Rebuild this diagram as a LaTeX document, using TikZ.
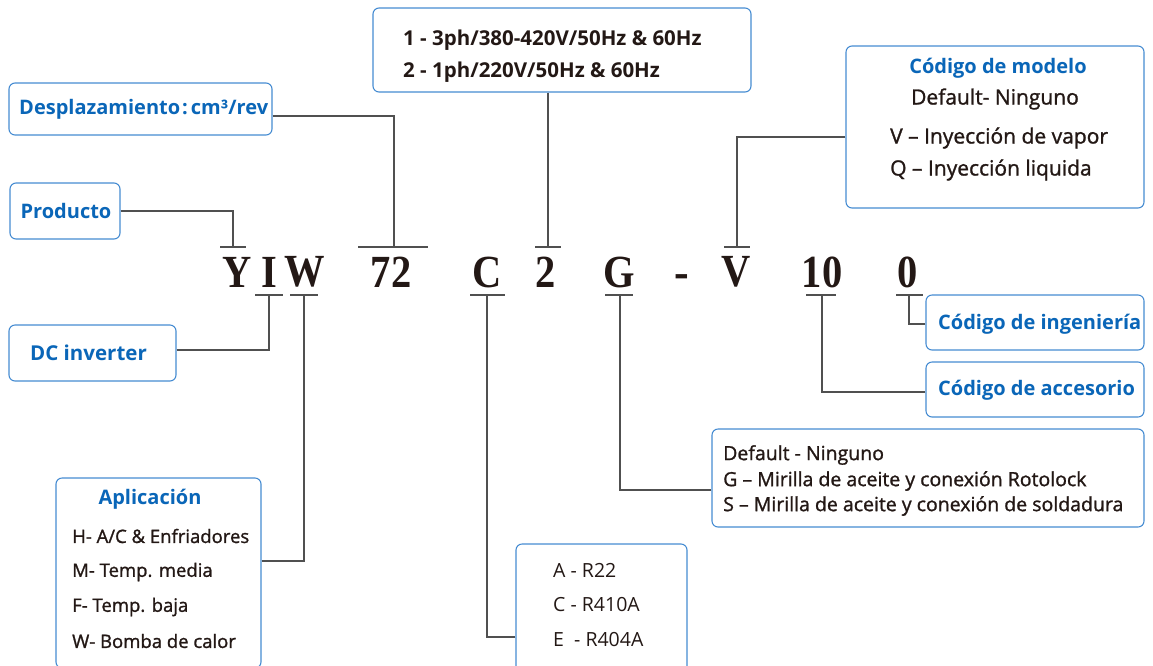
\documentclass[tikz,border=0pt]{standalone}
\usepackage{fontspec}
\setmainfont{Open Sans}
\newfontfamily\osmed[FakeBold=1.2]{Open Sans}
\newfontfamily\codefont[FakeStretch=0.88]{Liberation Serif}
\definecolor{bluetxt}{RGB}{10,102,184}
\definecolor{boxblue}{RGB}{70,140,210}
\definecolor{darktxt}{RGB}{35,24,21}
\definecolor{linegray}{RGB}{80,80,80}
\tikzset{
  box/.style={draw=boxblue, line width=1.1pt, rounded corners=6pt, inner sep=0pt, fill=white},
  btitle/.style={text=bluetxt, font=\bfseries\fontsize{20}{24}\selectfont, inner sep=0pt},
  bline/.style={text=darktxt, font=\osmed\fontsize{#1}{22}\selectfont, inner sep=0pt, anchor=west},
  bline/.default=19,
  bbline/.style={text=darktxt, font=\bfseries\fontsize{20.5}{24}\selectfont, inner sep=0pt, anchor=west},
  rline/.style={text=darktxt, font=\fontsize{19.5}{22}\selectfont, inner sep=0pt, anchor=west},
  code/.style={text=darktxt, font=\codefont\bfseries\fontsize{46}{50}\selectfont, inner sep=0pt},
  conn/.style={draw=linegray, line width=1.2pt},
  tick/.style={draw=linegray, line width=1.5pt},
}
\begin{document}
\begin{tikzpicture}[x=1pt,y=-1pt]
\useasboundingbox (0,0) rectangle (1153,665);

% code letters
\node[code] (cY) at (237,272) {Y};
\node[code] (cI) at (269,272) {I};
\node[code] (cW) at (305,272) {W};
\node[code] (c72) at (391,272) {72};
\node[code] (cC) at (487,272) {C};
\node[code] (c2) at (546,272) {2};
\node[code] (cG) at (619,272) {G};
\node[code, font=\codefont\bfseries\fontsize{50}{50}\selectfont] (cdash) at (682,282) {-};
\node[code] (cV) at (736,272) {V};
\node[code] (c10) at (822,272) {10};
\node[code] (c0) at (908,272) {0};

% tick coordinates
\coordinate (tY) at (233,247);
\coordinate (t72) at (394,247);
\coordinate (t2) at (548,247);
\coordinate (tV) at (737,247);
\coordinate (bI) at (269,295);
\coordinate (bW) at (304,295);
\coordinate (bC) at (487,295);
\coordinate (bG) at (620,295);
\coordinate (b10) at (822,295);
\coordinate (b0) at (909,295);

% boxes
\node[box, minimum width=263pt, minimum height=52pt] (disp) at (140.5,109) {};
\node[box, minimum width=378pt, minimum height=84pt] (top) at (562,50) {};
\node[box, minimum width=298pt, minimum height=162pt] (model) at (995,127) {};
\node[box, minimum width=110pt, minimum height=56pt] (prod) at (65,211) {};
\node[box, minimum width=167pt, minimum height=56pt] (dc) at (92.5,353) {};
\node[box, minimum width=205pt, minimum height=190pt] (apl) at (158.5,573) {};
\node[box, minimum width=171pt, minimum height=132pt] (ref) at (601.5,610) {};
\node[box, minimum width=432pt, minimum height=98pt] (gbox) at (928,478) {};
\node[box, minimum width=218pt, minimum height=55pt] (acc) at (1035,389.5) {};
\node[box, minimum width=218pt, minimum height=55pt] (ing) at (1035,322.5) {};

% box texts
\node[btitle, anchor=west] (tdisp) at (19,109) {Desplazamiento\hspace{2pt}:\hspace{3pt}cm³/rev};
\node[bbline] (top1) at (403,40) {1 - 3ph/380-420V/50Hz \& 60Hz};
\node[bbline] (top2) at (403,72) {2 - 1ph/220V/50Hz \& 60Hz};
\node[btitle] (tmodel) at (998,68) {Código de modelo};
\node[bline=21, anchor=center] (m1) at (995,99) {Default- Ninguno};
\node[bline=21] (m2) at (890,138) {V – Inyección de vapor};
\node[bline=21] (m3) at (890,170) {Q – Inyección liquida};
\node[btitle] (tprod) at (66,211) {Producto};
\node[btitle, anchor=west, font=\bfseries\fontsize{20.5}{24}\selectfont] (tdc) at (30,353) {DC inverter};
\node[btitle] (tapl) at (150,499) {Aplicación};
\node[bline=18.5] (a1) at (72,536) {H- A/C \& Enfriadores};
\node[bline=18.5] (a2) at (72,572) {M- Temp. media};
\node[bline=18.5] (a3) at (72,607) {F- Temp. baja};
\node[bline=18.5] (a4) at (72,641) {W- Bomba de calor};
\node[rline] (r1) at (553,570) {A - R22};
\node[rline] (r2) at (553,605) {C - R410A};
\node[rline] (r3) at (553,640) {E\ \ - R404A};
\node[bline=19.5] (g1) at (723,455) {Default - Ninguno};
\node[bline=19.5] (g2) at (723,481) {G – Mirilla de aceite y conexión Rotolock};
\node[bline=19.5] (g3) at (723,506) {S – Mirilla de aceite y conexión de soldadura};
\node[btitle, anchor=west] (tacc) at (938,390) {Código de accesorio};
\node[btitle, anchor=west] (ting) at (938,324) {Código de ingeniería};

% connectors
\draw[conn] (prod.east) -| (tY);
\draw[conn] ([yshift=-7pt]disp.east) -| (t72);
\draw[conn] (top.south -| t2) -- (t2);
\draw[conn] ([yshift=-10pt]model.west) -| (tV);
\draw[conn] ([yshift=3pt]dc.east) -| (bI);
\draw[conn] ([yshift=12pt]apl.east) -| (bW);
\draw[conn] ([yshift=-27pt]ref.west) -| (bC);
\draw[conn] ([yshift=-12pt]gbox.west) -| (bG);
\draw[conn] ([yshift=-2.5pt]acc.west) -| (b10);
\draw[conn] ([yshift=-1.5pt]ing.west) -| (b0);

% ticks
\draw[tick] ([xshift=-13pt]tY) -- ([xshift=13pt]tY);
\draw[tick] ([xshift=-36pt]t72) -- ([xshift=34pt]t72);
\draw[tick] ([xshift=-13pt]t2) -- ([xshift=13pt]t2);
\draw[tick] ([xshift=-13pt]tV) -- ([xshift=13pt]tV);
\draw[tick] ([xshift=-14pt]bI) -- ([xshift=14pt]bI);
\draw[tick] ([xshift=-14pt]bW) -- ([xshift=14pt]bW);
\draw[tick] ([xshift=-17pt]bC) -- ([xshift=18pt]bC);
\draw[tick] ([xshift=-15pt]bG) -- ([xshift=13pt]bG);
\draw[tick] ([xshift=-16pt]b10) -- ([xshift=14pt]b10);
\draw[tick] ([xshift=-13pt]b0) -- ([xshift=14pt]b0);
\end{tikzpicture}
\end{document}
